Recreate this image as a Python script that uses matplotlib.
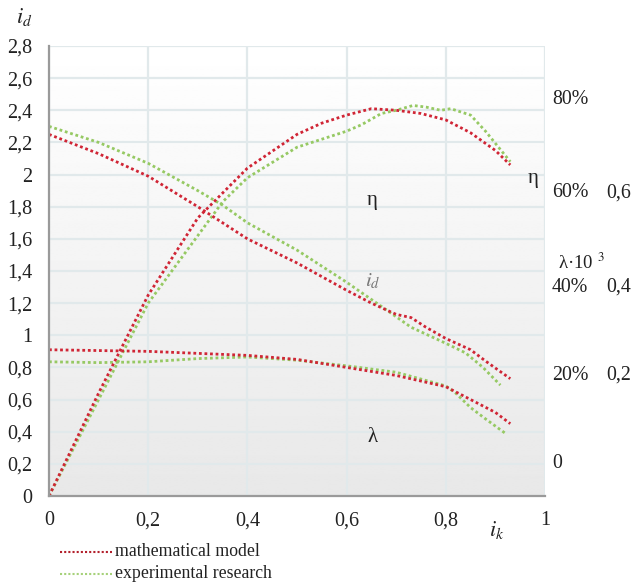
import numpy as np
import matplotlib
matplotlib.use("Agg")
import matplotlib.pyplot as plt

plt.rcParams['font.family'] = ['Liberation Serif', 'DejaVu Serif']
plt.rcParams['mathtext.fontset'] = 'stix'

# eta curves (efficiency)
eta_model_x = [0, 0.1, 0.2, 0.3, 0.4, 0.5, 0.55, 0.6, 0.65, 0.7, 0.75, 0.8, 0.85, 0.9, 0.93]
eta_model_y = [0, 0.64, 1.25, 1.73, 2.04, 2.25, 2.32, 2.37, 2.41, 2.40, 2.38, 2.34, 2.26, 2.15, 2.06]
eta_exp_x = [0, 0.1, 0.2, 0.3, 0.35, 0.4, 0.5, 0.55, 0.6, 0.63, 0.67, 0.7, 0.734, 0.76, 0.79, 0.81, 0.85, 0.88, 0.93]
eta_exp_y = [0, 0.60, 1.20, 1.62, 1.83, 1.98, 2.17, 2.22, 2.27, 2.31, 2.38, 2.40, 2.43, 2.42, 2.40, 2.41, 2.37, 2.27, 2.08]

# i_d curves
id_model_x = [0, 0.1, 0.2, 0.3, 0.4, 0.5, 0.6, 0.65, 0.7, 0.73, 0.76, 0.8, 0.85, 0.88, 0.93]
id_model_y = [2.25, 2.13, 1.99, 1.80, 1.60, 1.45, 1.28, 1.20, 1.13, 1.11, 1.05, 0.98, 0.91, 0.84, 0.73]
id_exp_x = [0, 0.1, 0.2, 0.3, 0.35, 0.4, 0.5, 0.6, 0.67, 0.73, 0.8, 0.84, 0.875, 0.91]
id_exp_y = [2.30, 2.20, 2.07, 1.90, 1.81, 1.70, 1.53, 1.33, 1.18, 1.05, 0.95, 0.89, 0.80, 0.69]

# lambda curves
lam_model_x = [0, 0.2, 0.4, 0.5, 0.6, 0.7, 0.8, 0.85, 0.9, 0.93]
lam_model_y = [0.91, 0.90, 0.875, 0.85, 0.80, 0.75, 0.68, 0.60, 0.52, 0.45]
lam_exp_x = [0, 0.1, 0.2, 0.3, 0.4, 0.5, 0.6, 0.7, 0.8, 0.82, 0.85, 0.88, 0.92]
lam_exp_y = [0.835, 0.83, 0.835, 0.855, 0.865, 0.845, 0.81, 0.77, 0.685, 0.64, 0.55, 0.48, 0.39]

xticks = [0, 0.2, 0.4, 0.6, 0.8, 1.0]
yticks = [0, 0.2, 0.4, 0.6, 0.8, 1.0, 1.2, 1.4, 1.6, 1.8, 2.0, 2.2, 2.4, 2.6, 2.8]

def fmt(v):
    s = ('%.1f' % v).rstrip('0').rstrip('.')
    return s.replace('.', ',')

W, H = 632, 584
fig = plt.figure(figsize=(W / 100, H / 100), dpi=100)
ax = fig.add_axes([49 / W, 1 - 496 / H, 496 / W, 450 / H])

def px(x, y):
    return x / W, 1 - y / H

# background gradient white -> light gray
grad = np.linspace(0.91, 1.0, 256).reshape(-1, 1)
ax.imshow(grad, extent=[0, 1, 0, 1], transform=ax.transAxes, cmap='gray',
          vmin=0, vmax=1, aspect='auto', zorder=0, origin='lower')

ax.set_xlim(0, 1)
ax.set_ylim(0, 2.8)
ax.set_xticks(xticks)
ax.set_yticks(yticks)
ax.set_xticklabels([fmt(v) for v in xticks], fontsize=14.5)
ax.set_yticklabels([fmt(v) for v in yticks], fontsize=14.5)
ax.tick_params(length=0, pad=12, colors='#222222')
ax.tick_params(axis='x', pad=11)
ax.grid(True, color='#e1e9eb', lw=1.6, zorder=1)
for s in ['top', 'right']:
    ax.spines[s].set_visible(False)
for s in ['left', 'bottom']:
    ax.spines[s].set_color('#9a9a9a')
    ax.spines[s].set_linewidth(1.6)
    ax.spines[s].set_zorder(3)

red = '#d02535'
green = '#96c963'
ls = (0, (1, 1))
lw = 2.0
ax.plot(eta_exp_x, eta_exp_y, color=green, ls=ls, lw=lw, zorder=2)
ax.plot(id_exp_x, id_exp_y, color=green, ls=ls, lw=lw, zorder=2)
ax.plot(lam_exp_x, lam_exp_y, color=green, ls=ls, lw=lw, zorder=2)
ax.plot(eta_model_x, eta_model_y, color=red, ls=ls, lw=lw, zorder=2)
ax.plot(id_model_x, id_model_y, color=red, ls=ls, lw=lw, zorder=2)
ax.plot(lam_model_x, lam_model_y, color=red, ls=ls, lw=lw, zorder=2)

# texts
tc = '#222222'
fig.text(*px(24, 17), '$i_d$', fontsize=16, ha='center', va='center', color=tc)
fig.text(*px(497, 530), '$i_k$', fontsize=16, ha='center', va='center', color=tc)
fig.text(*px(372, 201), 'η', fontsize=15, ha='center', va='center', color=tc)
fig.text(*px(373, 281), '$i_d$', fontsize=15, ha='center', va='center', color='#777777')
fig.text(*px(373, 437), 'λ', fontsize=15, ha='center', va='center', color=tc)
fig.text(*px(533, 178), 'η', fontsize=15, ha='center', va='center', color=tc)

right_pct = [('80%', 100), ('60%', 193), ('40%', 287), ('20%', 375), ('0', 463)]
for lab, y in right_pct:
    fig.text(*px(552, y), lab, fontsize=14.3, ha='left', va='center', color=tc)
right_lam = [('0,6', 193), ('0,4', 287), ('0,2', 375)]
for lab, y in right_lam:
    fig.text(*px(606, y), lab, fontsize=14.3, ha='left', va='center', color=tc)
fig.text(*px(558, 263), 'λ·10 $^3$', fontsize=13.5, ha='left', va='center', color=tc)

# legend
for (lab, col, y) in [('mathematical model', '#b3202c', 552), ('experimental research', '#a6d17a', 574)]:
    x0, y0 = px(60, y)
    x1, _ = px(112, y)
    fig.add_artist(plt.Line2D([x0, x1], [y0, y0], color=col, ls=(0, (1, 1)), lw=1.5,
                              transform=fig.transFigure))
    fig.text(*px(115, y), lab, fontsize=12.8, ha='left', va='center', color=tc)

fig.savefig('out.png', dpi=100)
